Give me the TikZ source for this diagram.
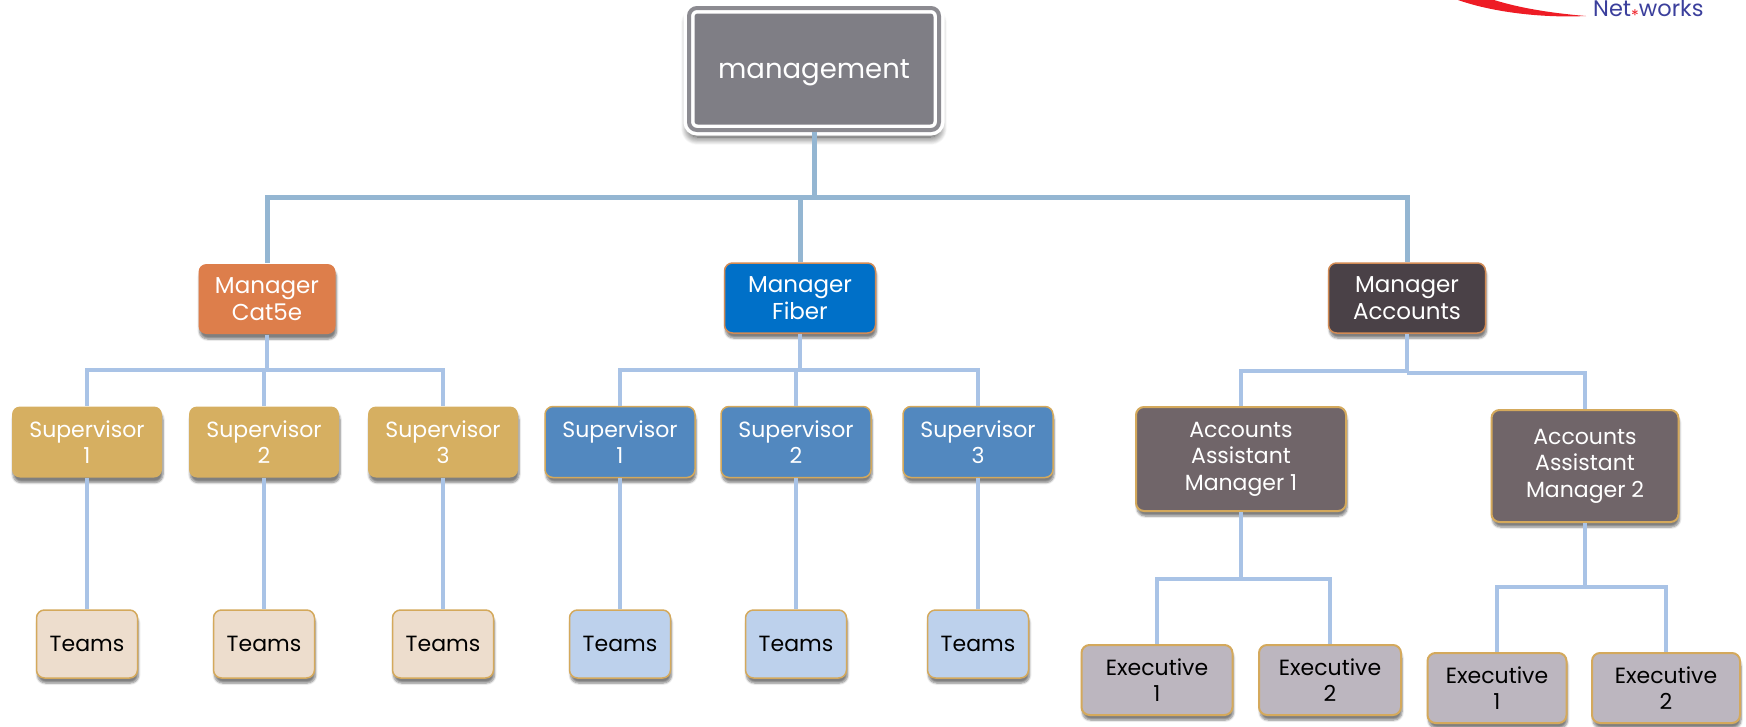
\documentclass[tikz,border=0pt]{standalone}
\usepackage{fontspec}
\setmainfont{Poppins}
\usetikzlibrary{shadows.blur}
\definecolor{linkTop}{HTML}{94B6D2}
\definecolor{linkLow}{HTML}{A9C3E6}
\definecolor{rimGold}{HTML}{D4A95C}
\definecolor{rimOrange}{HTML}{D28B55}
\definecolor{mgmtGray}{HTML}{7F7E85}
\definecolor{catOrange}{HTML}{DD7E4B}
\definecolor{fiberBlue}{HTML}{0070C8}
\definecolor{acctDark}{HTML}{4A4147}
\definecolor{supGold}{HTML}{D6AF61}
\definecolor{supBlue}{HTML}{5288BF}
\definecolor{teamTan}{HTML}{EDDDCD}
\definecolor{teamBlue}{HTML}{BDD1EC}
\definecolor{asstGray}{HTML}{706569}
\definecolor{execGray}{HTML}{BCB6BF}
\definecolor{logoRed}{HTML}{EE1C25}
\definecolor{logoBlue}{HTML}{3B3F9C}
\begin{document}
\begin{tikzpicture}[x=1pt,y=-1pt]
          \useasboundingbox (0,0) rectangle (1746,726);
          % Setup the style for the boxes
          \tikzset{box style/.style={rectangle,
                                     rounded corners=8pt,
                                     align=center,
                                     inner sep=0pt,
                                     line width=1.5pt,
                                     font=\fontsize{22}{26.5}\selectfont,
                                     blur shadow={shadow xshift=1pt,shadow yshift=-5pt,shadow opacity=50,shadow blur steps=6,shadow blur extra rounding=1pt}},
                   top style/.style={box style,
                                     draw=white,
                                     double=mgmtGray!90!white,
                                     double distance=4pt,
                                     line width=3.5pt,
                                     fill=mgmtGray,
                                     text=white,
                                     text depth=0pt,
                                     minimum width=250pt,
                                     minimum height=122pt,
                                     blur shadow={shadow xshift=0pt,shadow yshift=-7pt,shadow blur radius=8pt,shadow opacity=45,shadow blur steps=10},
                                     font=\fontsize{27.5}{33}\selectfont},
                   manager style/.style={box style,text=white,minimum height=70pt,font=\fontsize{23}{26.5}\selectfont},
                   sup style/.style={box style,text=white,minimum width=150pt,minimum height=71pt},
                   team style/.style={box style,draw=rimGold,text=black,minimum width=101pt,minimum height=68pt},
                   asst style/.style={box style,draw=rimGold,line width=2pt,fill=asstGray,text=white},
                   exec style/.style={box style,draw=rimGold,line width=2pt,fill=execGray,text=black,minimum height=70pt},
                   link top/.style={draw=linkTop,line width=5pt},
                   link low/.style={draw=linkLow,line width=4.5pt}}
          % Draw the logo corner
          \fill[logoRed] (1458,0) .. controls (1495,13) and (1545,18) .. (1586,16) .. controls (1550,13) and (1520,8) .. (1494,0) -- cycle;
          \node[anchor=base west,inner sep=0pt,text=logoBlue,font=\fontsize{22.5}{22.5}\selectfont] at (1593,16) (logo) {Net\raisebox{-5pt}{\textcolor{logoRed}{\fontsize{16}{16}\selectfont*}}works};
          % Draw the boxes
          \node[top style] at (814, 69)      (mgmt)     {management};
          \node[manager style,fill=catOrange,minimum width=137pt] at (267, 299)  (cat)      {Manager\\Cat5e};
          \node[manager style,fill=fiberBlue,draw=rimOrange,minimum width=151pt] at (800, 298)  (fiber)    {Manager\\Fiber};
          \node[manager style,fill=acctDark,draw=rimOrange,minimum width=157pt] at (1407, 298) (accounts) {Manager\\Accounts};
          \node[sup style,fill=supGold] at (87, 442)   (supA)  {Supervisor\\1};
          \node[sup style,fill=supGold] at (264, 442)  (supB)  {Supervisor\\2};
          \node[sup style,fill=supGold] at (443, 442)  (supC)  {Supervisor\\3};
          \node[sup style,fill=supBlue,draw=rimGold] at (620, 442)  (supD)  {Supervisor\\1};
          \node[sup style,fill=supBlue,draw=rimGold] at (796, 442)  (supE)  {Supervisor\\2};
          \node[sup style,fill=supBlue,draw=rimGold] at (978, 442)  (supF)  {Supervisor\\3};
          \node[team style,fill=teamTan] at (87, 644)   (teamA) {Teams};
          \node[team style,fill=teamTan] at (264, 644)  (teamB) {Teams};
          \node[team style,fill=teamTan] at (443, 644)  (teamC) {Teams};
          \node[team style,fill=teamBlue] at (620, 644)  (teamD) {Teams};
          \node[team style,fill=teamBlue] at (796, 644)  (teamE) {Teams};
          \node[team style,fill=teamBlue] at (978, 644)  (teamF) {Teams};
          \node[asst style,minimum width=210pt,minimum height=104pt] at (1241, 459) (asstA) {Accounts\\Assistant\\Manager 1};
          \node[asst style,minimum width=187pt,minimum height=112pt] at (1585, 466) (asstB) {Accounts\\Assistant\\Manager 2};
          \node[exec style,minimum width=151pt] at (1157, 680) (execA) {Executive\\1};
          \node[exec style,minimum width=142pt] at (1330, 680) (execB) {Executive\\2};
          \node[exec style,minimum width=139pt] at (1497, 688) (execC) {Executive\\1};
          \node[exec style,minimum width=148pt] at (1666, 688) (execD) {Executive\\2};
          % Points where the connectors split
          \coordinate (busTop)  at (814, 197);
          \coordinate (busCat)  at (267, 370);
          \coordinate (busFib)  at (800, 370);
          \coordinate (busAcc)  at (1407, 371);
          \coordinate (busAccR) at (1407, 373);
          \coordinate (busA)    at (1241, 579);
          \coordinate (busB)    at (1585, 587);
          % Connect the boxes
          \draw[link top] (mgmt.south) -- (busTop) -| (cat.north);
          \draw[link top] (busTop) -| (fiber.north);
          \draw[link top] (busTop) -| (accounts.north);
          \draw[link low]
             (cat.south) -- (busCat) -| (supA.north)
             (busCat) -| (supB.north)
             (busCat) -| (supC.north)
             (fiber.south) -- (busFib) -| (supD.north)
             (busFib) -| (supE.north)
             (busFib) -| (supF.north)
             (accounts.south) -- (busAcc) -| (asstA.north)
             (busAccR) -| (asstB.north)
             (supA.south) -- (teamA.north)
             (supB.south) -- (teamB.north)
             (supC.south) -- (teamC.north)
             (supD.south) -- (teamD.north)
             (supE.south) -- (teamE.north)
             (supF.south) -- (teamF.north)
             (asstA.south) -- (busA) -| (execA.north)
             (busA) -| (execB.north)
             (asstB.south) -- (busB) -| (execC.north)
             (busB) -| (execD.north);
\end{tikzpicture}
\end{document}
